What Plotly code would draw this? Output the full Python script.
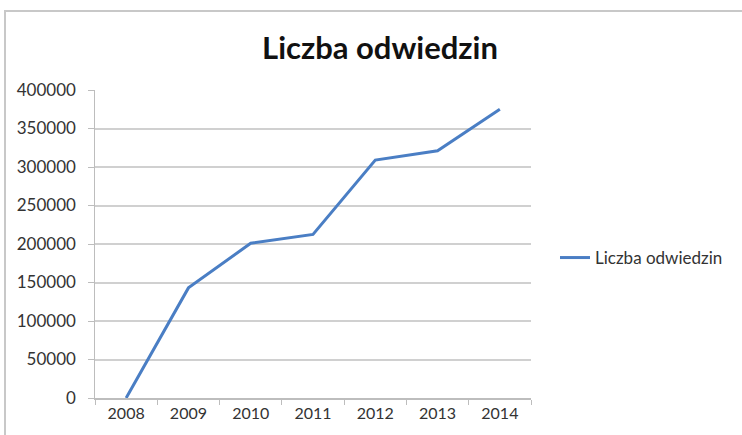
import plotly.graph_objects as go

years = ["2008", "2009", "2010", "2011", "2012", "2013", "2014"]
visits = [0, 143000, 201000, 212500, 309000, 321000, 375000]
series_name = "Liczba odwiedzin"
title_text = "Liczba odwiedzin"

W, H = 742, 435
L, R, T, B = 95, 211, 90, 37
pw, ph = W - L - R, H - T - B

def px(x):
    return (x - L) / pw

def py(y):
    return (H - B - y) / ph

fig = go.Figure()
fig.add_trace(go.Scatter(
    x=years, y=visits, mode="lines", name=series_name,
    line=dict(color="#4a7ec4", width=3),
))

fig.update_layout(
    width=W, height=H,
    margin=dict(l=L, r=R, t=T, b=B),
    paper_bgcolor="white", plot_bgcolor="white",
    font=dict(family="Lato, Open Sans, sans-serif", color="#333333"),
    title=dict(text="<b>" + title_text + "</b>", x=380 / W, xanchor="center",
               y=1 - 48 / H, yanchor="middle",
               font=dict(family="Lato, sans-serif", size=31, color="#111111")),
    showlegend=True,
    legend=dict(x=px(555), xanchor="left", y=py(258), yanchor="middle",
                font=dict(size=17, color="#333333"), itemwidth=30,
                bgcolor="rgba(0,0,0,0)"),
    xaxis=dict(type="category", range=[-0.5, 6.5], showgrid=False,
               showline=True, linecolor="#bdbdbd", linewidth=2,
               ticks="outside", tickson="boundaries", ticklen=5,
               tickcolor="#bdbdbd", tickwidth=1,
               tickfont=dict(size=16, color="#333333")),
    yaxis=dict(range=[0, 400000], dtick=50000, showgrid=True,
               gridcolor="#d0d0d0", gridwidth=2, zeroline=False,
               showline=True, linecolor="#bdbdbd", linewidth=1,
               ticks="outside", ticklen=6, tickcolor="#bdbdbd",
               tickformat="d", ticksuffix="  ",
               tickfont=dict(size=17, color="#333333")),
    shapes=[dict(type="rect", xref="paper", yref="paper",
                 x0=px(5), x1=px(770), y0=py(460), y1=py(11),
                 line=dict(color="#c8c8c8", width=2), layer="below")],
)

fig.write_html("out.html", config={"displayModeBar": False},
               post_script="document.body.style.margin='0px';")
